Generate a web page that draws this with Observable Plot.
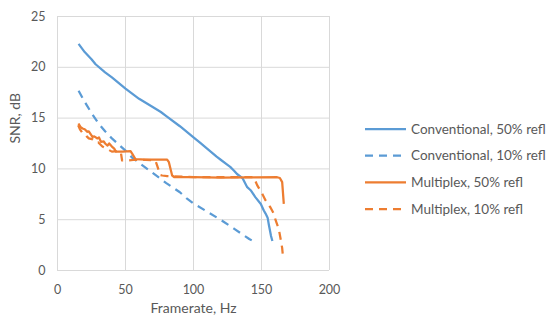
<!DOCTYPE html>
<html>
<head>
<meta charset="utf-8">
<script src="https://cdn.jsdelivr.net/npm/d3@7"></script>
<script src="https://cdn.jsdelivr.net/npm/@observablehq/plot@0.6"></script>
<style>
  html, body { margin: 0; padding: 0; background: #fff; }
  #chart svg { display: block; font-family: Lato, "Noto Sans", sans-serif; }
</style>
</head>
<body>
<div id="chart"></div>
<script>
// ---- data ----
const xTicks = [0, 50, 100, 150, 200];
const yTicks = [0, 5, 10, 15, 20, 25];
const seriesNames = ["Conventional, 50% refl", "Conventional, 10% refl", "Multiplex, 50% refl", "Multiplex, 10% refl"];
const seriesColors = ["#5B9BD5", "#5B9BD5", "#ED7D31", "#ED7D31"];
const seriesDashed = [false, true, false, true];

const conv50Framerate = [15.5, 20, 25, 28, 35, 40, 50, 60, 70, 76, 80, 90, 100, 105, 110, 117, 120, 125, 127, 130, 132, 136, 139.5, 142, 145.6, 149.5, 151.7, 153, 154.5, 155.4, 157, 158];
const conv50SNR = [22.3, 21.5, 20.8, 20.3, 19.5, 19.0, 17.9, 16.9, 16.1, 15.6, 15.2, 14.2, 13.1, 12.55, 12.0, 11.2, 10.9, 10.4, 10.2, 9.8, 9.5, 9.1, 8.2, 7.9, 7.2, 6.55, 5.9, 5.6, 5.2, 4.5, 3.4, 2.9];

const conv10Framerate = [15.5, 20, 25, 28, 30, 35, 40, 47.5, 50, 55, 60, 68, 80, 90, 95, 100, 110, 121, 130, 141, 143];
const conv10SNR = [17.7, 16.6, 15.5, 14.9, 14.5, 13.7, 13.0, 12.1, 11.8, 11.1, 10.6, 9.8, 8.6, 7.7, 7.1, 6.6, 5.8, 4.9, 4.1, 3.1, 2.95];

const mux50Framerate = [15.4, 17.1, 18.4, 20, 22, 23, 25.7, 27, 29.4, 30.5, 31.9, 34, 35, 36.8, 38, 40, 41.7, 42.9, 47.8, 53.7, 54.9, 57.4, 65, 80.6, 81.9, 84.3, 86, 100, 120, 140, 161.5, 163.5, 165.2, 166.4];
const mux50SNR = [14.47, 14.1, 13.98, 13.9, 13.65, 13.7, 13.16, 13.2, 13.0, 13.1, 12.67, 12.7, 12.5, 12.3, 12.5, 12.2, 12.0, 11.7, 11.7, 11.75, 11.5, 10.95, 10.92, 10.92, 10.66, 9.35, 9.18, 9.18, 9.15, 9.17, 9.18, 9.1, 8.7, 6.56];

const mux10Framerate = [15.2, 16.5, 18, 20, 21.5, 23, 26, 28, 30, 33, 36, 40, 44, 46.5, 47.5, 52.4, 57, 65, 72, 73.3, 75.5, 77, 80.6, 100, 120, 144.3, 146.8, 150.5, 153, 156.6, 159, 160.5, 162.7, 164.2, 165.2, 166];
const mux10SNR = [14.3, 13.9, 13.6, 13.5, 13.2, 13.0, 12.9, 12.6, 12.6, 12.2, 12.0, 11.7, 11.75, 11.7, 10.83, 10.83, 10.9, 10.9, 10.83, 10.33, 9.4, 9.35, 9.3, 9.2, 9.2, 9.18, 8.4, 7.55, 6.9, 6.2, 5.6, 4.9, 4.1, 3.0, 2.2, 1.1];

const seriesX = [conv50Framerate, conv10Framerate, mux50Framerate, mux10Framerate];
const seriesY = [conv50SNR, conv10SNR, mux50SNR, mux10SNR];

// ---- build table ----
const rows = [];
seriesNames.forEach((name, i) => {
  seriesX[i].forEach((x, j) => rows.push({series: name, idx: i, x, y: seriesY[i][j]}));
});

const textColor = "#595959";
const gridColor = "#d9d9d9";

const lineMarks = seriesNames.map((name, i) =>
  Plot.line(rows.filter(d => d.idx === i), {
    x: "x", y: "y",
    stroke: seriesColors[i],
    strokeWidth: 2.25,
    strokeDasharray: seriesDashed[i] ? "8,6" : null,
    strokeLinejoin: "round",
    strokeLinecap: "butt"
  })
);

const chart = Plot.plot({
  width: 550,
  height: 329,
  marginLeft: 57,
  marginRight: 221,
  marginTop: 16,
  marginBottom: 59,
  style: {fontFamily: "Lato, 'Noto Sans', sans-serif", color: textColor, background: "#fff"},
  x: {domain: [0, 200], label: null},
  y: {domain: [0, 25], label: null},
  marks: [
    Plot.gridX(xTicks, {stroke: gridColor, strokeOpacity: 1, strokeWidth: 1}),
    Plot.gridY(yTicks, {stroke: gridColor, strokeOpacity: 1, strokeWidth: 1}),
    ...lineMarks,
    Plot.axisX(xTicks, {tickSize: 0, tickPadding: 14.5, fontSize: 12.5, fill: textColor, label: null}),
    Plot.axisY(yTicks, {tickSize: 0, tickPadding: 12, fontSize: 12.5, fill: textColor, label: null}),
    Plot.text(["Framerate, Hz"], {frameAnchor: "bottom", dy: 42, fontSize: 14, fill: textColor}),
    Plot.text(["SNR, dB"], {frameAnchor: "left", dx: -42, rotate: -90, fontSize: 14, fill: textColor})
  ]
});

// ---- legend, drawn into the same svg ----
const svg = d3.select(chart);
const lg = svg.append("g").attr("class", "legend").attr("text-anchor", "start");
const legendX = 365, legendY0 = 129, legendStep = 26.7;
seriesNames.forEach((name, i) => {
  const yy = legendY0 + i * legendStep;
  lg.append("line")
    .attr("x1", legendX).attr("x2", legendX + 41)
    .attr("y1", yy).attr("y2", yy)
    .attr("stroke", seriesColors[i])
    .attr("stroke-width", 2.25)
    .attr("stroke-dasharray", seriesDashed[i] ? "8,6" : null);
  lg.append("text")
    .attr("x", legendX + 46).attr("y", yy)
    .attr("dy", "0.35em")
    .attr("text-anchor", "start")
    .attr("fill", textColor)
    .attr("font-size", 13.5)
    .text(name);
});

document.getElementById("chart").appendChild(chart);
</script>
</body>
</html>
